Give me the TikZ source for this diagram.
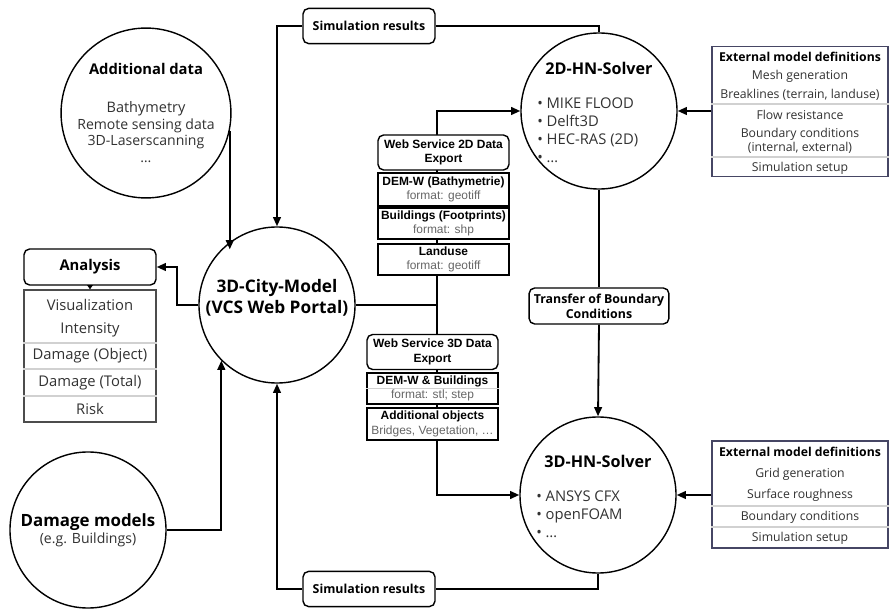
\documentclass[tikz,border=0pt]{standalone}
\usepackage{fontspec}
\setmainfont{Open Sans}
\newfontfamily\arialfont{Liberation Sans}
\usetikzlibrary{positioning, arrows.meta}

\definecolor{framegray}{RGB}{70,70,100}
\definecolor{textgray}{RGB}{50,50,50}

\begin{document}
\begin{tikzpicture}[
  x=0.025cm, y=-0.025cm,
  >={Triangle[length=6.5pt,width=5.5pt]},
  every node/.style={text=textgray},
  flow/.style={line width=1.3pt, black},
  bigcircle/.style={draw, circle, line width=1pt, minimum size=3.9cm, inner sep=0pt, align=center, fill=white},
  roundbox/.style={draw, rounded corners=4pt, line width=1pt, fill=white, minimum width=3.3cm, minimum height=0.88cm, align=center, text=black, font=\fontsize{8.8}{10.5}\selectfont\bfseries},
  webhead/.style={draw, rounded corners=4pt, line width=1pt, fill=white, minimum width=3.275cm, minimum height=0.875cm, align=center, inner sep=1pt, text=black, font=\arialfont\fontsize{8.5}{10.5}\selectfont\bfseries},
  webrow/.style={draw, line width=1pt, fill=white, minimum width=3.275cm, minimum height=0.78cm, align=center, inner sep=1pt, text=black, font=\arialfont\fontsize{8.5}{10.5}\selectfont},
  solvertitle/.style={text=black, font=\fontsize{11.5}{14}\selectfont\bfseries},
  bulletlist/.style={align=left, inner sep=0pt, font=\fontsize{10.5}{12.8}\selectfont},
  tablerow/.style={font=\fontsize{10.5}{13}\selectfont},
  extrow/.style={font=\fontsize{8.7}{10}\selectfont},
  sepline/.style={draw=black!18, line width=0.8pt},
  tableframe/.style={draw=framegray, line width=1pt, inner sep=0pt}
]
\useasboundingbox[fill=white] (0,0) rectangle (890,610);

% Circles
\node[bigcircle] (adddata) at (146,113) {{\fontsize{10.5}{13.5}\selectfont\bfseries\color{black} Additional data}\\[15pt]
  \fontsize{10.3}{13.8}\selectfont Bathymetry\\ Remote sensing data\\ 3D-Laserscanning\\ \dots};
\node[bigcircle] (city) at (277,305) {};
\node[text=black, align=center, font=\fontsize{12.3}{15}\selectfont\bfseries] (citytext) at (277,298) {3D-City-Model\\(VCS Web Portal)};
\node[bigcircle] (damage) at (88,530) {{\fontsize{12}{15}\selectfont\bfseries\color{black} Damage models}\\ \fontsize{10}{13}\selectfont(e.g. Buildings)};
\node[bigcircle] (hn2d) at (599,111) {};
\node[solvertitle] (hn2dtitle) at (599,68) {2D-HN-Solver};
\node[bulletlist, anchor=north west] (hn2dlist) at (537,98) {\textbullet\ MIKE FLOOD\\ \textbullet\ Delft3D\\ \textbullet\ HEC-RAS (2D)\\ \textbullet\ \dots};
\node[bigcircle] (hn3d) at (598,495) {};
\node[solvertitle] (hn3dtitle) at (598,461) {3D-HN-Solver};
\node[bulletlist, anchor=north west] (hn3dlist) at (536,491) {\textbullet\ ANSYS CFX\\ \textbullet\ openFOAM\\ \textbullet\ \dots};

% Boxes
\node[roundbox] (simtop) at (369,26) {Simulation results};
\node[roundbox] (simbot) at (369,589) {Simulation results};
\node[roundbox, minimum height=0.9cm] (transfer) at (599,306) {Transfer of Boundary\\Conditions};
\node[roundbox, minimum height=0.9cm, font=\fontsize{10.5}{12}\selectfont\bfseries] (analysis) at (90,267) {Analysis};

% Analysis table
\node[tableframe, draw=black!70, minimum width=3.3cm, minimum height=3.3cm] (analysistab) at (90,356) {};
\node[tablerow] (visu) at (90,305) {Visualization};
\node[tablerow] (inten) at (90,330) {Intensity};
\node[tablerow] (dmgobj) at (90,356) {Damage (Object)};
\node[tablerow] (dmgtot) at (90,383) {Damage (Total)};
\node[tablerow] (risk) at (90,409) {Risk};
\draw[sepline] (analysistab.west |- 0,343) -- (analysistab.east |- 0,343);
\draw[sepline] (analysistab.west |- 0,369) -- (analysistab.east |- 0,369);
\draw[sepline] (analysistab.west |- 0,396) -- (analysistab.east |- 0,396);
\draw[->, >={Triangle[length=3pt,width=4pt]}, line width=0.5pt] (analysis.south) -- (analysistab.north);

% External model definitions (2D)
\node[tableframe, minimum width=4.4cm, minimum height=3.25cm] (ext2d) at (800,111.5) {};
\node[extrow, text=black, font=\fontsize{8.7}{10}\selectfont\bfseries] (ext2dtitle) at (800,57) {External model definitions};
\node[extrow] (ext2dmesh) at (800,76) {Mesh generation};
\node[extrow] (ext2dbreak) at (800,95) {Breaklines (terrain, landuse)};
\node[extrow] (ext2dflow) at (800,115) {Flow resistance};
\node[extrow, align=center] (ext2dbound) at (800,141) {Boundary conditions\\(internal, external)};
\node[extrow] (ext2dsetup) at (800,168) {Simulation setup};
\draw[sepline] (ext2d.west |- 0,104) -- (ext2d.east |- 0,104);
\draw[sepline] (ext2d.west |- 0,157) -- (ext2d.east |- 0,157);

% External model definitions (3D)
\node[tableframe, minimum width=4.4cm, minimum height=2.675cm] (ext3d) at (800,494.5) {};
\node[extrow, text=black, font=\fontsize{8.7}{10}\selectfont\bfseries] (ext3dtitle) at (800,452) {External model definitions};
\node[extrow] (ext3dgrid) at (800,474) {Grid generation};
\node[extrow] (ext3drough) at (800,495) {Surface roughness};
\node[extrow] (ext3dbound) at (800,517) {Boundary conditions};
\node[extrow] (ext3dsetup) at (800,538) {Simulation setup};
\draw[sepline] (ext3d.west |- 0,506) -- (ext3d.east |- 0,506);
\draw[sepline] (ext3d.west |- 0,527) -- (ext3d.east |- 0,527);

% Connectors
\coordinate (hub) at (437,305);
\draw[flow, ->] (adddata.-12) -- (adddata.-12 |- city.135);
\draw[flow, ->] (damage.east) -| (city.-135);
\draw[flow, ->] (city.west) -- ++(-21,0) |- (analysis.east);
\draw[flow, line width=1.8pt] (city.east) -- (hub);
\draw[flow, ->] (hub) |- (hn2d.west);
\draw[flow, ->] (hub) |- (hn3d.west);
\draw[flow] (hn2d.north) |- (simtop.east);
\draw[flow, ->] (simtop.west) -| (city.north);
\draw[flow] (hn3d.south) |- (simbot.east);
\draw[flow, ->] (simbot.west) -| (city.south);
\draw[flow] (hn2d.south) -- (transfer.north);
\draw[flow, ->] (transfer.south) -- (hn3d.north);
\draw[flow, ->] (ext2d.west |- hn2d.east) -- (hn2d.east);
\draw[flow, ->] (ext3d.west |- hn3d.east) -- (hn3d.east);

% Web service 2D data export
\node[webhead] (web2dhead) at (443.5,152.5) {Web Service 2D Data\\Export};
\node[webrow, minimum height=0.825cm] (web2ddem) at (443.5,189.5) {\textbf{DEM-W (Bathymetrie)}\\{\color{black!60}format: geotiff}};
\node[webrow] (web2dbuild) at (443.5,223.5) {\textbf{Buildings (Footprints)}\\{\color{black!60}format: shp}};
\node[webrow] (web2dland) at (443.5,259.5) {\textbf{Landuse}\\{\color{black!60}format: geotiff}};

% Web service 3D data export
\node[webhead] (web3dhead) at (432.5,352) {Web Service 3D Data\\Export};
\node[webrow] (web3ddem) at (432.5,388.5) {\textbf{DEM-W \& Buildings}\\{\color{black!60}format: stl; step}};
\draw[sepline] (web3ddem.west) -- (web3ddem.east);
\node[webrow, minimum height=0.8cm] (web3dadd) at (432.5,424) {\textbf{Additional objects}\\{\color{black!60}Bridges, Vegetation, \dots}};

\end{tikzpicture}
\end{document}
